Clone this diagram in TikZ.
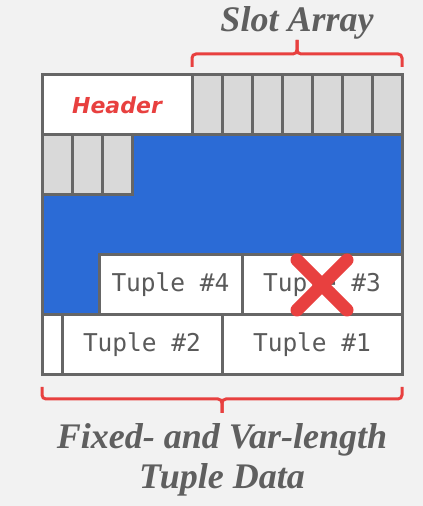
\documentclass[tikz,border=0pt]{standalone}
\usepackage{fontspec}
\setmainfont{Liberation Serif}
\newfontfamily\monofont{DejaVu Sans Mono}
\newfontfamily\hdrfont{DejaVu Sans}
\usetikzlibrary{positioning, calc, backgrounds}

\definecolor{pagebg}{HTML}{F2F2F2}
\definecolor{edgegray}{HTML}{666666}
\definecolor{slotgray}{HTML}{D9D9D9}
\definecolor{freeblue}{HTML}{2B6BD6}
\definecolor{markred}{HTML}{E8403F}
\definecolor{txtgray}{HTML}{5A5A5A}
\definecolor{capgray}{HTML}{5F5F5F}

\tikzset{
  cell/.style={draw=edgegray, line width=3pt, inner sep=0pt, outer sep=0pt, minimum height=60pt},
  slot/.style={cell, fill=slotgray, minimum width=30pt},
  tuple/.style={cell, fill=white, text=txtgray, font=\monofont\fontsize{24.5}{24.5}\selectfont},
  brace/.style={draw=markred, line width=3pt, rounded corners=4pt},
  caption/.style={text=capgray, inner sep=0pt, font=\bfseries\itshape\fontsize{36}{40}\selectfont},
}

\begin{document}
\begin{tikzpicture}[x=1pt, y=1pt]
\useasboundingbox (0,0) rectangle (423,506);

\node (header) [cell, fill=white, minimum width=150pt, anchor=north west, text=markred, font=\hdrfont\bfseries\itshape\fontsize{22}{22}\selectfont] at (42,431) {Header};
\node (s1) [slot, right=0pt of header] {};
\node (s2) [slot, right=0pt of s1] {};
\node (s3) [slot, right=0pt of s2] {};
\node (s4) [slot, right=0pt of s3] {};
\node (s5) [slot, right=0pt of s4] {};
\node (s6) [slot, right=0pt of s5] {};
\node (s7) [slot, right=0pt of s6] {};
\node (s8) [slot, below right=0pt and 0pt of header.south west] {};
\node (s9) [slot, right=0pt of s8] {};
\node (s10) [slot, right=0pt of s9] {};

\node (tup1) [tuple, minimum width=180pt, anchor=south east] at (402,131) {Tuple \#1};
\node (tup2) [tuple, minimum width=160pt, left=0pt of tup1] {Tuple \#2};
\node (gap) [cell, fill=white, minimum width=20pt, left=0pt of tup2] {};
\node (tup3) [tuple, minimum width=160pt, above left=0pt and 0pt of tup1.north east] {Tuple \#3};
\node (tup4) [tuple, minimum width=143pt, left=0pt of tup3] {Tuple \#4};

\begin{scope}[on background layer]
\fill[pagebg] (0,0) rectangle (423,506);
\fill[freeblue] (s10.north east) -- (s7.south east) -- (tup3.north east) -- (tup4.north west)
  -- (tup4.south west) -- (gap.north west) -- (s8.south west) -- (s10.south east) -- cycle;
\end{scope}
\draw[draw=edgegray, line width=3pt] (header.north west) rectangle (tup1.south east);

\draw[markred, line width=13pt, line cap=round] ($(tup3.center)+(-25,25)$) -- ($(tup3.center)+(25,-25)$);
\draw[markred, line width=13pt, line cap=round] ($(tup3.center)+(25,25)$) -- ($(tup3.center)+(-25,-25)$);

\coordinate (toptip) at ($(s4.north)+(0,35)$);
\draw[brace] ($(s1.north west)+(0,8)$) |- ($(s4.north)+(0,21)$) -- (toptip);
\draw[brace] ($(s7.north east)+(0,8)$) |- ($(s4.north)+(0,21)$) -- (toptip);
\node (slotlbl) [caption, above=1pt of toptip] {Slot Array};

\coordinate (botmid) at ($(gap.south west)!0.5!(tup1.south east)$);
\coordinate (bottip) at ($(botmid)+(0,-38)$);
\draw[brace] ($(gap.south west)+(0,-12)$) |- ($(botmid)+(0,-24)$) -- (bottip);
\draw[brace] ($(tup1.south east)+(0,-12)$) |- ($(botmid)+(0,-24)$) -- (bottip);
\node (datalbl) [caption, align=center, below=10pt of bottip] {Fixed- and Var-length\\Tuple Data};
\end{tikzpicture}
\end{document}
